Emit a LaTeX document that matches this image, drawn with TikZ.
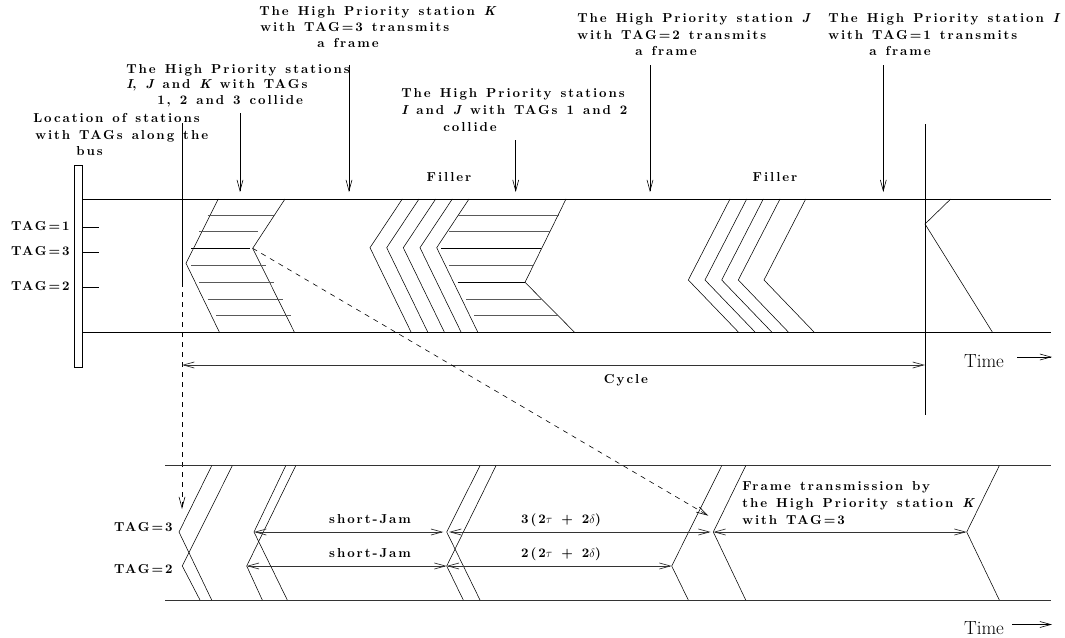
\documentclass[tikz,border=0pt]{standalone}
\usepackage{fontspec}
\usetikzlibrary{arrows.meta}
\newfontfamily\lblfam[LetterSpace=15,WordSpace=1.3]{lmroman10-bold.otf}
\newfontfamily\lblitfam[LetterSpace=15,WordSpace=1.3]{lmroman10-bolditalic.otf}
\newcommand{\lblfnt}{\fontsize{13}{16}\lblfam}
\newcommand{\mi}[1]{{\lblitfam #1}}
\begin{document}
\begin{tikzpicture}[x=1pt,y=-1pt,line width=0.6pt,
  >={Straight Barb[length=11pt,width=6pt]},
  lbl/.style={font=\lblfnt,inner sep=0pt,anchor=west,text height=9pt,text depth=3pt},
  lblc/.style={lbl,anchor=center},
  lble/.style={lbl,anchor=east},
  timelbl/.style={font=\fontsize{19}{22}\selectfont,inner sep=0pt},
  busline/.style={line width=0.7pt},
  sig/.style={line width=0.55pt},
  hatch/.style={line width=0.9pt,black!65},
  dasharrow/.style={dashed,dash pattern=on 5pt off 5pt,->},
  dimarrow/.style={<->,line width=0.7pt,black!80}]
\useasboundingbox (0,0) rectangle (1065,637);
\fill[white] (0,0) rectangle (1065,637);

% ---------- upper diagram ----------
\draw[busline] (74,165) rectangle (82,367);
\coordinate (ut1) at (82,199); \coordinate (ut2) at (1051,199);
\coordinate (ub1) at (82,332); \coordinate (ub2) at (1051,332);
\draw[busline] (ut1) -- (ut2);
\draw[busline] (ub1) -- (ub2);

\node[lble] (tag1) at (70,227) {TAG=1};
\node[lble] (tag3) at (70,252) {TAG=3};
\node[lble] (tag2) at (70,287) {TAG=2};
\draw (82,227) -- (99,227);
\draw (82,252) -- (99,252);
\draw (82,287) -- (99,287);

\node[lbl] (loc1) at (33,119) {Location of stations};
\node[lbl] (loc2) at (35,136) {with TAGs along the};
\node[lbl] (loc3) at (76,152) {bus};

% cycle start marker
\coordinate (cs1) at (182,123);
\coordinate (cs2) at (182,282);
\coordinate (cs3) at (182,509);
\draw (cs1) -- (cs2);
\draw[dasharrow] (cs2) -- (cs3);

% collision of I, J, K
\draw[sig] (218.3,199) -- (186,263.3) -- (219.3,332);
\coordinate (kapex) at (252.7,248.3);
\draw[sig] (285,199) -- (kapex) -- (294.3,332);
\foreach \y/\a/\b in {215.7/207.7/274.3, 231.7/199.3/257.7, 265.7/191/266,
                     282.3/199.3/274.3, 299/207.7/282.7, 315.7/216/291}
  \draw[hatch] (\a,\y) -- (\b,\y);
\draw[sig] (191,248.3) -- (250,248.3);

% filler group 1
\foreach \t/\m/\b in {402.3/370/411, 419/386.7/427.7, 435.7/403.3/444.3, 452.3/420/461}
  \draw[sig] (\t,199) -- (\m,247.7) -- (\b,332);

% collision of I, J
\draw[sig] (469,199) -- (436.7,247.7) -- (477.7,332);
\draw[sig] (566,199) -- (525,282.3) -- (574.3,332);
\foreach \y/\a/\b in {215.7/457.7/559, 231.7/449.3/550, 265.7/449.3/532.7,
                     299/466/541, 315.7/474.3/557.7}
  \draw[hatch] (\a,\y) -- (\b,\y);
\draw[sig] (441,248.3) -- (541,248.3);
\draw[sig] (457.7,282.3) -- (525,282.3);

% filler group 2
\foreach \t/\m/\b in {730/688.3/738.3, 746.7/705/755, 763.3/721.7/771.7, 780/738.3/788.3, 805.7/764/814}
  \draw[sig] (\t,199) -- (\m,280) -- (\b,332);

% cycle end
\coordinate (ce1) at (925,124);
\coordinate (ce2) at (925,415);
\draw (ce1) -- (ce2);
\draw[sig] (950.7,199) -- (925,224) -- (992.3,332);

% cycle arrow
\coordinate (cyA) at (182,365);
\coordinate (cyB) at (925,365);
\draw[dimarrow] (cyA) -- (cyB);
\node[lblc] (cycle) at (626,380) {Cycle};

% time axis (upper)
\node[timelbl] (time1) at (984,361) {Time};
\coordinate (ta1) at (1017,357); \coordinate (ta2) at (1052,357);
\draw[->] (ta1) -- (ta2);

% fillers
\node[lblc] (fill1) at (449,178) {Filler};
\node[lblc] (fill2) at (775,178) {Filler};

% top labels
\node[lbl] (b1) at (259,12) {The High Priority station \mi{K}};
\node[lbl] (b2) at (260,28) {with TAG=3 transmits};
\node[lbl] (b3) at (317,44) {a frame};

\node[lbl] (a1) at (126,70) {The High Priority stations};
\node[lbl] (a2) at (126,85) {\mi{I}, \mi{J} and \mi{K} with TAGs};
\node[lbl] (a3) at (157,101) {1, 2 and 3 collide};

\node[lbl] (c1) at (401,94) {The High Priority stations};
\node[lbl] (c2) at (401,111) {\mi{I} and \mi{J} with TAGs 1 and 2};
\node[lbl] (c3) at (443,128) {collide};

\node[lbl] (d1) at (577,19) {The High Priority station \mi{J}};
\node[lbl] (d2) at (577,36) {with TAG=2 transmits};
\node[lbl] (d3) at (635,52) {a frame};

\node[lbl] (e1) at (828,19) {The High Priority station \mi{I}};
\node[lbl] (e2) at (828,36) {with TAG=1 transmits};
\node[lbl] (e3) at (869,52) {a frame};

% arrows from labels
\coordinate (aA1) at (240,113); \coordinate (aA2) at (240,192);
\coordinate (aB1) at (349,65);  \coordinate (aB2) at (349,192);
\coordinate (aC1) at (515.7,140); \coordinate (aC2) at (515.7,192);
\coordinate (aD1) at (650,65);  \coordinate (aD2) at (650,192);
\coordinate (aE1) at (883.3,65); \coordinate (aE2) at (883.3,192);
\draw[->] (aA1) -- (aA2);
\draw[->] (aB1) -- (aB2);
\draw[->] (aC1) -- (aC2);
\draw[->] (aD1) -- (aD2);
\draw[->] (aE1) -- (aE2);

% ---------- lower diagram ----------
\draw[busline,black!80] (165,465.7) -- (1051,465.7);
\draw[busline,black!80] (165,600) -- (1051,600);

\node[lble] (btag3) at (173,528) {TAG=3};
\node[lble] (btag2) at (173,570) {TAG=2};

% group 1
\draw[sig] (211.7,465.7) -- (179,532) -- (211.7,600);
\draw[sig] (232.3,465.7) -- (182.3,566) -- (200,600);
% group 2
\coordinate (g2a3) at (254,532);
\coordinate (g2a2) at (246.7,566);
\draw[sig] (285.7,465.7) -- (g2a3) -- (287.3,600);
\draw[sig] (295.7,465.7) -- (g2a2) -- (262.3,600);
% group 3
\coordinate (g3a3) at (446.7,532);
\coordinate (g3a2) at (446.7,566);
\draw[sig] (480,465.7) -- (g3a3) -- (480,600);
\draw[sig] (496,465.7) -- (g3a2) -- (463.3,600);
% frames
\coordinate (fJ) at (671.7,566);
\coordinate (fK1) at (713.3,532);
\coordinate (fK2) at (966.7,532);
\draw[sig] (721.7,465.7) -- (fJ) -- (688.3,600);
\draw[sig] (745.7,465.7) -- (fK1) -- (745.7,600);
\draw[sig] (999.3,465.7) -- (fK2) -- (999.3,600);

% dimension arrows
\draw[dimarrow] (g2a3) -- (443.3,532);
\draw[dimarrow] (449,532) -- (710.7,532);
\draw[dimarrow] (fK1) -- (fK2);
\draw[dimarrow] (g2a2) -- (g3a2);
\draw[dimarrow] (g3a2) -- (fJ);

\node[lblc] (sj1) at (370,520) {short-Jam};
\node[lblc] (sj2) at (370,554) {short-Jam};
\node[lblc] (d3t) at (561,520) {3(2$\tau$ + 2$\delta$)};
\node[lblc] (d2t) at (561,554) {2(2$\tau$ + 2$\delta$)};

\node[lbl] (f1) at (742,487) {Frame transmission by};
\node[lbl] (f2) at (742,504) {the High Priority station \mi{K}};
\node[lbl] (f3) at (742,521) {with TAG=3};

% dashed zoom arrow
\coordinate (dz) at (708.3,515.7);
\draw[dasharrow] (kapex) -- (dz);

% time axis (lower)
\node[timelbl] (time2) at (984,628) {Time};
\coordinate (tb1) at (1012,624.5); \coordinate (tb2) at (1052,624.5);
\draw[->] (tb1) -- (tb2);
\end{tikzpicture}
\end{document}
